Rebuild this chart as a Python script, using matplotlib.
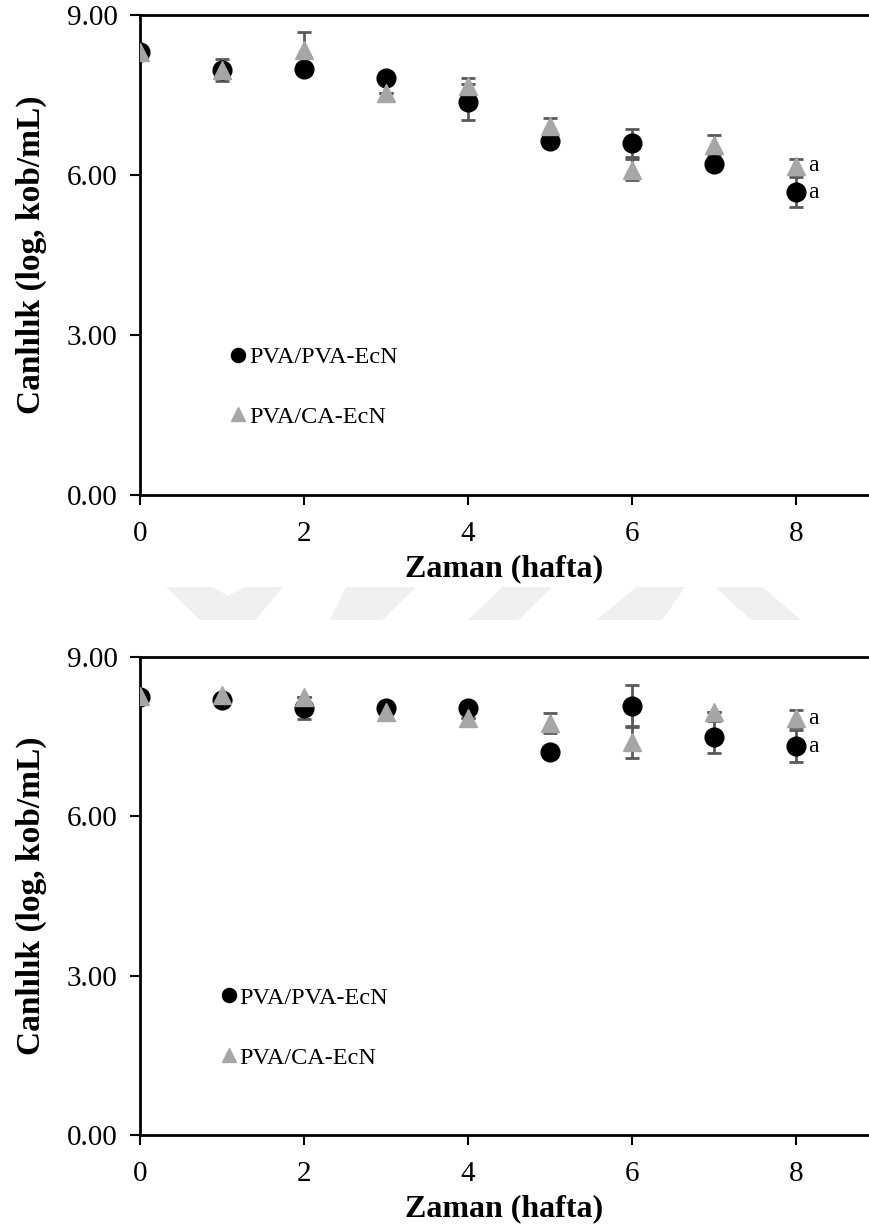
## Canlilik vs zaman - two panels, PVA/PVA-EcN vs PVA/CA-EcN

import numpy as np
import matplotlib.pyplot as plt
from matplotlib.patches import Polygon

plt.rcParams['font.family'] = ['Liberation Serif', 'DejaVu Serif']

weeks = [0, 1, 2, 3, 4, 5, 6, 7, 8]

# top panel
top_pva = [8.30, 7.97, 7.98, 7.82, 7.37, 6.64, 6.60, 6.21, 5.68]
top_pva_err = [0.0, 0.0, 0.0, 0.0, 0.34, 0.0, 0.27, 0.0, 0.28]
top_ca = [8.30, 7.97, 8.35, 7.54, 7.67, 6.92, 6.10, 6.56, 6.17]
top_ca_err = [0.0, 0.20, 0.33, 0.0, 0.15, 0.14, 0.20, 0.19, 0.13]

# bottom panel
bot_pva = [8.25, 8.19, 8.04, 8.04, 8.04, 7.21, 8.08, 7.49, 7.32]
bot_pva_err = [0.0, 0.0, 0.20, 0.0, 0.0, 0.0, 0.40, 0.30, 0.30]
bot_ca = [8.27, 8.28, 8.25, 7.96, 7.85, 7.76, 7.40, 7.96, 7.85]
bot_ca_err = [0.0, 0.0, 0.0, 0.15, 0.0, 0.19, 0.30, 0.0, 0.16]

end_letters = ['a', 'a']
series_names = ['PVA/PVA-EcN', 'PVA/CA-EcN']

black = '#000000'
gray = '#A6A6A6'
errc = '#595959'

W, H = 869, 1227
fig = plt.figure(figsize=(W/100, H/100), dpi=100)

def panel(rect, pva, pva_err, ca, ca_err, leg_anchor):
    ax = fig.add_axes(rect)
    ax.errorbar(weeks, pva, yerr=pva_err, fmt='none', ecolor=errc, elinewidth=2,
                capsize=5, capthick=2, zorder=2)
    ax.errorbar(weeks, ca, yerr=ca_err, fmt='none', ecolor=errc, elinewidth=2,
                capsize=5, capthick=2, zorder=2)
    ax.plot(weeks, pva, 'o', color=black, ms=13.5, mec=black, label=series_names[0], zorder=3)
    ax.plot(weeks, ca, '^', color=gray, ms=13, mec=gray, label=series_names[1], zorder=4)
    ax.annotate(end_letters[0], (weeks[-1], pva[-1]), xytext=(9, 0), textcoords='offset points',
                ha='left', va='center', fontsize=17)
    ax.annotate(end_letters[1], (weeks[-1], ca[-1]), xytext=(9, 0), textcoords='offset points',
                ha='left', va='center', fontsize=17)

    ax.set_xlim(0, 8.89)
    ax.set_ylim(0, 9)
    ax.set_xticks([0, 2, 4, 6, 8])
    ax.set_yticks([0, 3, 6, 9])
    ax.set_yticklabels(['%.2f' % v for v in [0, 3, 6, 9]])
    ax.tick_params(labelsize=21, width=1.5, length=7, direction='out', pad=9)
    ax.tick_params(axis='x', pad=12)
    for s in ['left', 'bottom', 'top']:
        ax.spines[s].set_linewidth(2)
    ax.spines['right'].set_visible(False)
    ax.set_xlabel('Zaman (hafta)', fontsize=23, fontweight='bold', labelpad=5)
    ax.set_ylabel('Canlılık (log, kob/mL)', fontsize=24, fontweight='bold', labelpad=14)

    ax.legend(loc='upper left', bbox_to_anchor=leg_anchor, frameon=False, fontsize=17.5,
              handlelength=0.65, handletextpad=0.12, labelspacing=1.55,
              borderpad=0, borderaxespad=0, markerscale=0.75)
    return ax

panel([140/W, 1-495/H, 1-140/W, 480/H], top_pva, top_pva_err, top_ca, top_ca_err, (0.124, 0.31))
panel([140/W, 1-1135/H, 1-140/W, 478/H], bot_pva, bot_pva_err, bot_ca, bot_ca_err, (0.111, 0.31))

# faint thesis watermark between the panels
wm = [
    [(166, 587), (213, 587), (228, 596), (244, 587), (283, 587), (255, 620), (200, 620)],
    [(346, 587), (416, 587), (382, 620), (330, 620)],
    [(502, 587), (552, 587), (518, 620), (468, 620)],
    [(637, 587), (685, 587), (662, 620), (596, 620)],
    [(715, 587), (762, 587), (801, 620), (751, 620)],
]
for poly in wm:
    pts = [(x/W, 1-y/H) for x, y in poly]
    fig.patches.append(Polygon(pts, closed=True, transform=fig.transFigure,
                               facecolor='#F0F0F0', edgecolor='none', zorder=0))

fig.savefig('out.png', dpi=100)
